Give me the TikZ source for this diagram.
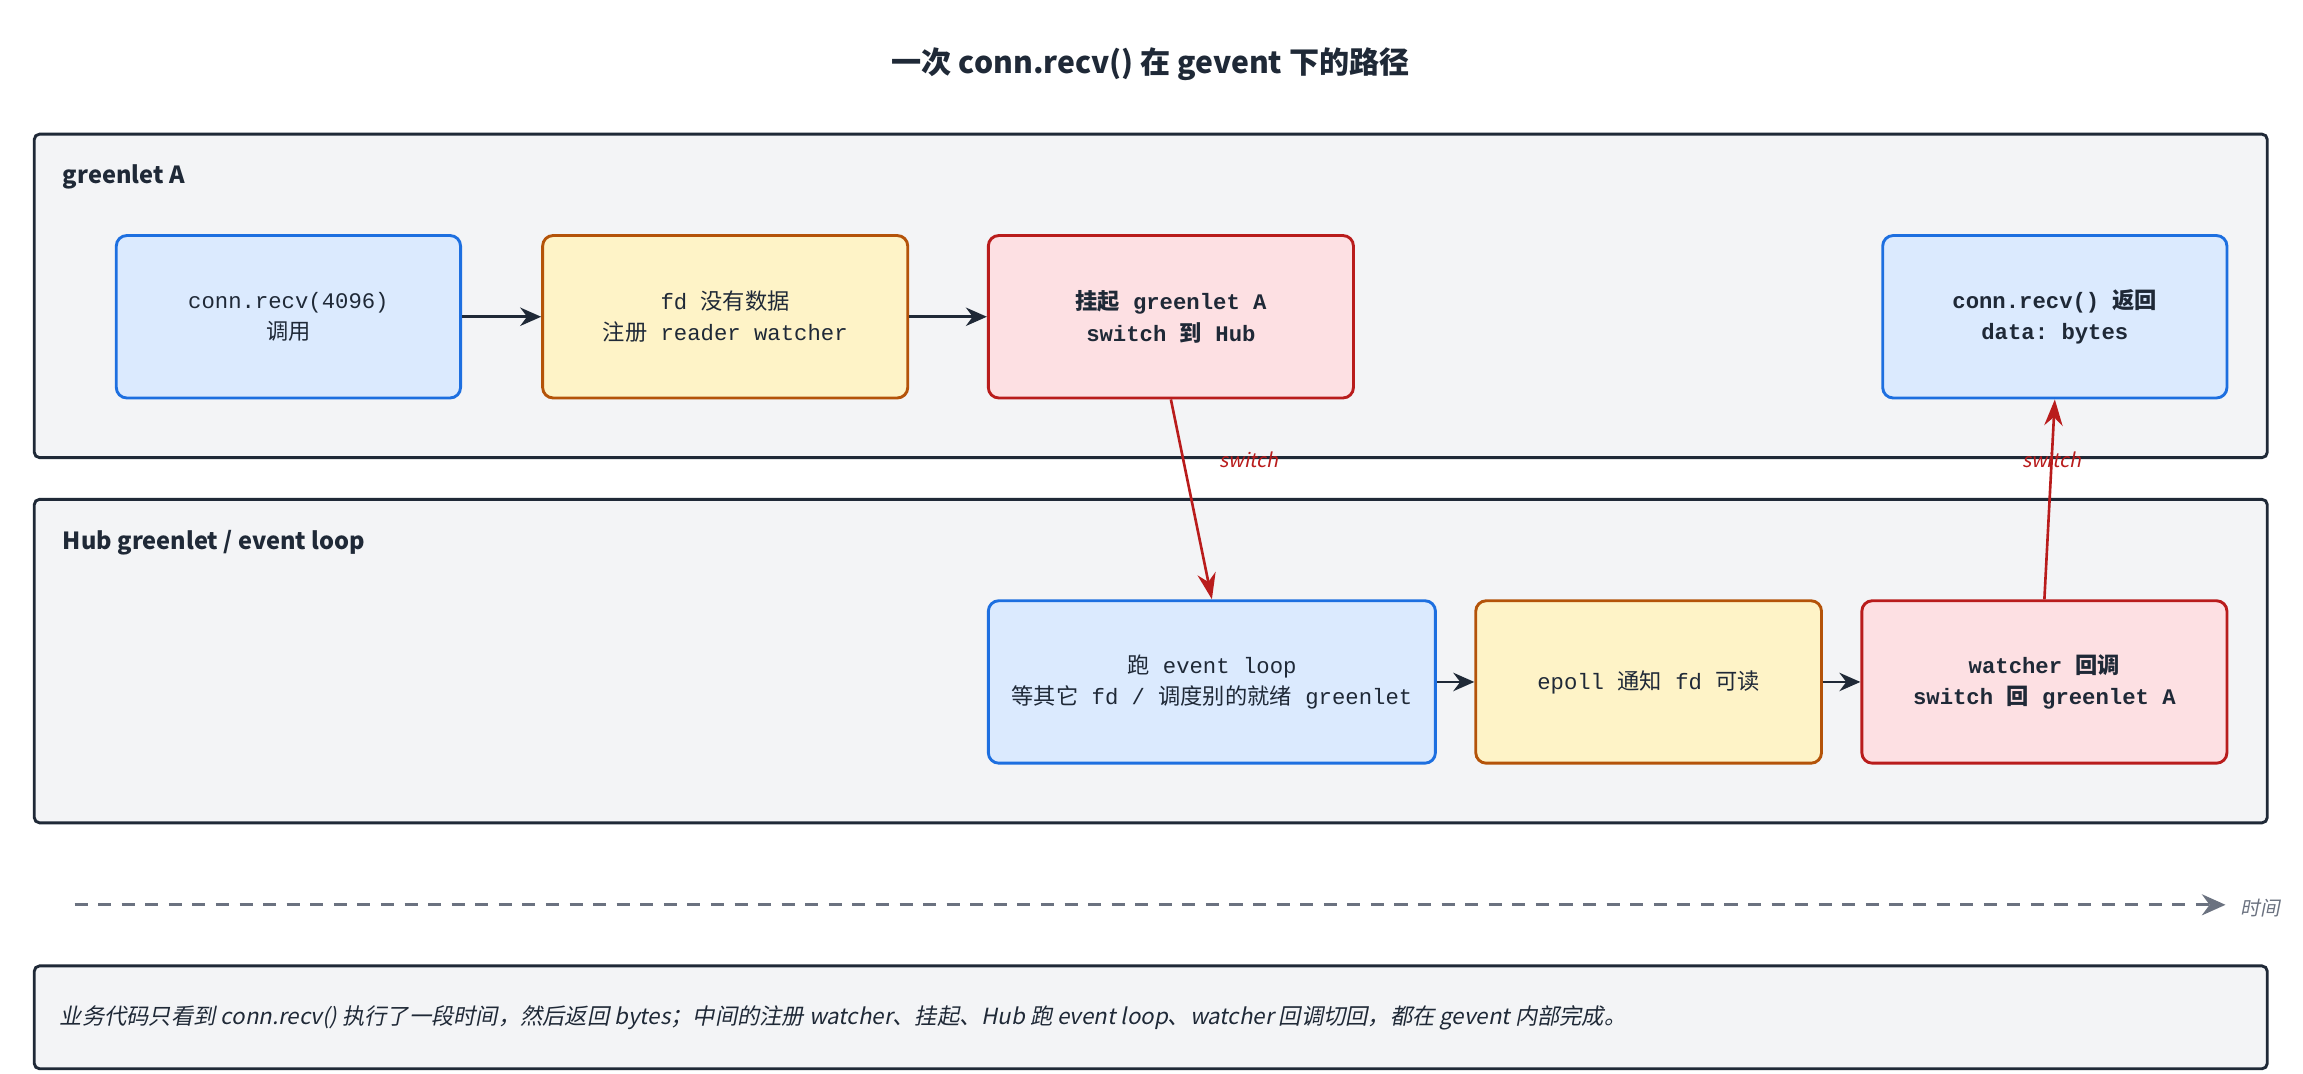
\documentclass[tikz,border=0pt]{standalone}
\usepackage{fontspec}
\setmainfont{Noto Sans CJK SC}[AutoFakeSlant=0.2]
\setmonofont{Liberation Mono}
\newfontfamily\cjk{Noto Sans CJK SC}
\usetikzlibrary{arrows.meta}
\definecolor{inkdark}{HTML}{1F2937}
\definecolor{panelgray}{HTML}{F3F4F6}
\definecolor{callblue}{HTML}{DBEAFE}
\definecolor{callbluedraw}{HTML}{1D6FE0}
\definecolor{waityellow}{HTML}{FEF3C7}
\definecolor{waityellowdraw}{HTML}{B45309}
\definecolor{switchred}{HTML}{FDE0E3}
\definecolor{switchreddraw}{HTML}{B91C1C}
\definecolor{timegray}{HTML}{6B7280}
\tikzset{
  panel/.style={draw=inkdark, line width=1.1pt, fill=panelgray, rounded corners=2pt},
  stagebox/.style={rounded corners=4pt, line width=1.1pt, align=center, minimum height=2.18cm, font=\fontsize{8.5}{12}\ttfamily, text=inkdark},
  bluestep/.style={stagebox, draw=callbluedraw, fill=callblue},
  yellowstep/.style={stagebox, draw=waityellowdraw, fill=waityellow},
  redstep/.style={stagebox, draw=switchreddraw, fill=switchred, font=\fontsize{8.5}{12}\ttfamily\bfseries},
  flow/.style={-{Stealth[length=8pt,width=7pt]}, line width=1.1pt, draw=inkdark},
  hop/.style={-{Stealth[length=10pt,width=7pt]}, line width=1pt, draw=switchreddraw},
  hoplabel/.style={font=\fontsize{7.5}{9}\itshape, text=switchreddraw}
}
\begin{document}
\begin{tikzpicture}[x=0.02cm,y=-0.02cm]
  \useasboundingbox[fill=white] (0,0) rectangle (1545,720);
  % Title
  \node[font=\fontsize{11.5}{14}\bfseries, text=inkdark] (title) at (772,43) {一次 conn.recv() 在 gevent 下的路径};
  % Panels
  \draw[panel] (23,90) rectangle (1521,307);
  \node[anchor=west, font=\fontsize{9}{11}\bfseries, text=inkdark] (lblA) at (36,119) {greenlet A};
  \draw[panel] (23,335) rectangle (1521,552);
  \node[anchor=west, font=\fontsize{9}{11}\bfseries, text=inkdark] (lblHub) at (36,364) {Hub greenlet / event loop};
  % greenlet A steps
  \node[bluestep, minimum width=4.62cm] (recv) at (193.5,212.5) {conn.recv(4096)\\{\cjk 调用}};
  \node[yellowstep, minimum width=4.9cm] (nodata) at (486.5,212.5) {fd {\cjk 没有数据}\\{\cjk 注册} reader watcher};
  \node[redstep, minimum width=4.9cm] (suspend) at (785.5,212.5) {{\cjk\bfseries 挂起} greenlet A\\switch {\cjk\bfseries 到} Hub};
  \node[bluestep, minimum width=4.62cm, font=\fontsize{8.5}{12}\ttfamily\bfseries] (ret) at (1378.5,212.5) {conn.recv() {\cjk\bfseries 返回}\\data: bytes};
  % Hub steps
  \node[bluestep, minimum width=6cm] (loop) at (813,457.5) {{\cjk 跑} event loop\\{\cjk 等其它} fd / {\cjk 调度别的就绪} greenlet};
  \node[yellowstep, minimum width=4.64cm] (epoll) at (1106,457.5) {epoll {\cjk 通知} fd {\cjk 可读}};
  \node[redstep, minimum width=4.9cm] (cb) at (1371.5,457.5) {watcher {\cjk\bfseries 回调}\\switch {\cjk\bfseries 回} greenlet A};
  % Connectors
  \draw[flow] (recv) -- (nodata);
  \draw[flow] (nodata) -- (suspend);
  \draw[flow] (loop) -- (epoll);
  \draw[flow] (epoll) -- (cb);
  \draw[hop] (suspend.south) -- (loop.north) node[hoplabel, pos=0.3, right=10pt] (sw1) {switch};
  \draw[hop] (cb.north) -- (ret.south) node[hoplabel, pos=0.7] (sw2) {switch};
  % Time axis
  \coordinate (t0) at (50,607);
  \coordinate (t1) at (1493,607);
  \draw[timegray, line width=1.1pt, dash pattern=on 5pt off 4pt, -{Stealth[length=9pt,width=8pt]}] (t0) -- (t1);
  \node[anchor=west, font=\fontsize{7.5}{9}\itshape, text=timegray] (tlabel) at (1497,609) {时间};
  % Note
  \draw[panel] (23,648) rectangle (1521,717);
  \node[anchor=west, font=\fontsize{8.5}{10}\itshape, text=inkdark] (note) at (34,683) {业务代码只看到 conn.recv() 执行了一段时间，然后返回 bytes；中间的注册 watcher、挂起、Hub 跑 event loop、watcher 回调切回，都在 gevent 内部完成。};
\end{tikzpicture}
\end{document}
